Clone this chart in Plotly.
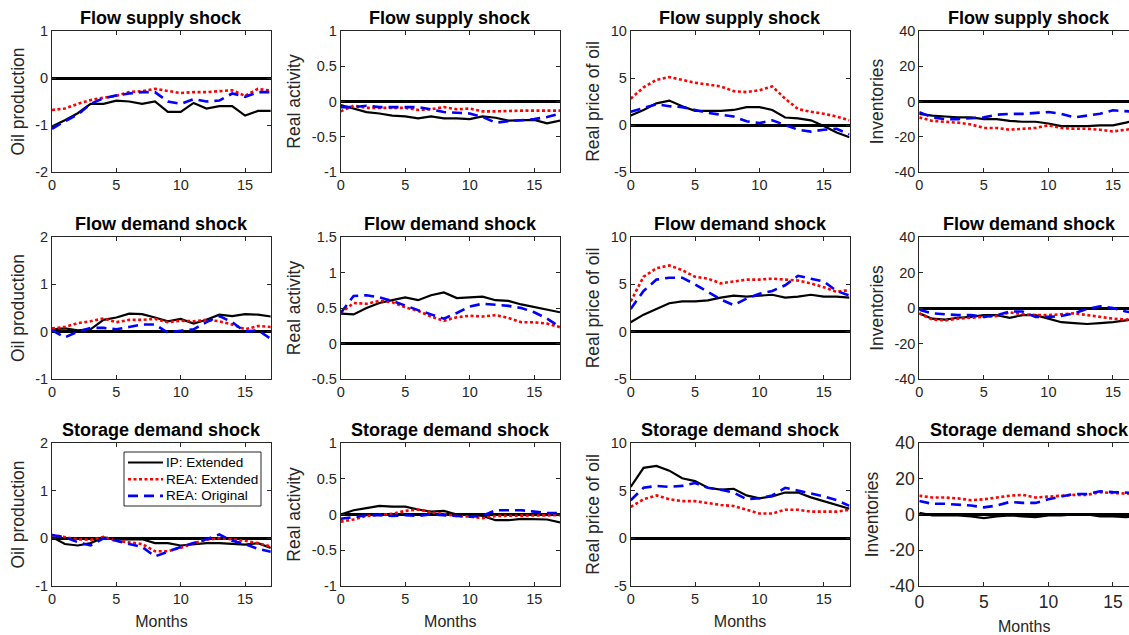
import plotly.graph_objects as go

months = list(range(18))
shock_titles = ["Flow supply shock", "Flow demand shock", "Storage demand shock"]
var_titles = ["Oil production", "Real activity", "Real price of oil", "Inventories"]
series_names = ["IP: Extended", "REA: Extended", "REA: Original"]

# ---- Flow supply shock ----
fs_oil_ip = [-1.03, -0.9, -0.75, -0.55, -0.55, -0.48, -0.5, -0.55, -0.5, -0.72, -0.72, -0.53, -0.65, -0.6, -0.6, -0.8, -0.7, -0.7]
fs_oil_ext = [-0.68, -0.65, -0.55, -0.47, -0.42, -0.38, -0.3, -0.28, -0.23, -0.28, -0.32, -0.3, -0.3, -0.28, -0.26, -0.38, -0.23, -0.27]
fs_oil_org = [-1.08, -0.92, -0.78, -0.55, -0.43, -0.37, -0.33, -0.3, -0.3, -0.5, -0.55, -0.45, -0.5, -0.48, -0.33, -0.4, -0.3, -0.3]

fs_rea_ip = [-0.05, -0.1, -0.15, -0.17, -0.2, -0.21, -0.24, -0.21, -0.24, -0.24, -0.25, -0.21, -0.23, -0.27, -0.26, -0.26, -0.31, -0.27]
fs_rea_ext = [-0.14, -0.06, -0.09, -0.09, -0.08, -0.09, -0.12, -0.11, -0.08, -0.11, -0.1, -0.14, -0.14, -0.13, -0.13, -0.13, -0.13, -0.13]
fs_rea_org = [-0.08, -0.08, -0.06, -0.08, -0.08, -0.08, -0.08, -0.11, -0.15, -0.16, -0.17, -0.22, -0.3, -0.28, -0.27, -0.25, -0.22, -0.17]

fs_price_ip = [1.0, 1.6, 2.3, 2.6, 2.0, 1.5, 1.5, 1.5, 1.6, 1.9, 1.9, 1.6, 0.8, 0.7, 0.5, -0.1, -0.8, -1.3]
fs_price_ext = [2.8, 4.0, 4.8, 5.1, 4.8, 4.5, 4.3, 4.1, 3.6, 3.5, 3.7, 4.1, 2.8, 1.7, 1.4, 1.2, 0.9, 0.5]
fs_price_org = [1.4, 1.8, 2.2, 2.0, 1.9, 1.6, 1.3, 1.1, 0.9, 0.4, 0.2, 0.5, 0.0, -0.5, -0.7, -0.5, -0.4, -1.0]

fs_inv_ip = [-7, -8, -8.5, -9, -9, -10, -10, -11, -11.5, -11.5, -12.5, -14, -14, -14, -13.5, -13.5, -12, -10]
fs_inv_ext = [-9, -11, -11.5, -12, -13, -15, -15, -16, -15.5, -15, -13.5, -15, -15.5, -15.5, -16, -17, -16, -15]
fs_inv_org = [-6, -9, -10, -10, -9.5, -9, -7.5, -7, -7, -6.5, -6, -7, -9, -8, -7, -5, -5.5, -6]

# ---- Flow demand shock ----
fd_oil_ip = [0.05, 0.07, 0.03, 0.05, 0.25, 0.3, 0.38, 0.37, 0.3, 0.22, 0.27, 0.17, 0.25, 0.36, 0.33, 0.37, 0.36, 0.32]
fd_oil_ext = [0.07, 0.1, 0.18, 0.22, 0.28, 0.2, 0.25, 0.25, 0.27, 0.2, 0.23, 0.22, 0.25, 0.22, 0.15, 0.05, 0.12, 0.1]
fd_oil_org = [0.03, -0.12, 0.0, 0.08, 0.08, 0.05, 0.1, 0.15, 0.15, -0.02, 0.02, 0.05, 0.2, 0.33, 0.2, 0.0, 0.03, -0.15]

fd_rea_ip = [0.42, 0.41, 0.5, 0.57, 0.61, 0.65, 0.61, 0.68, 0.72, 0.64, 0.65, 0.66, 0.61, 0.6, 0.55, 0.51, 0.47, 0.44]
fd_rea_ext = [0.43, 0.57, 0.56, 0.6, 0.58, 0.51, 0.46, 0.38, 0.32, 0.37, 0.39, 0.38, 0.4, 0.36, 0.3, 0.3, 0.28, 0.23]
fd_rea_org = [0.43, 0.67, 0.68, 0.65, 0.6, 0.53, 0.47, 0.41, 0.35, 0.43, 0.52, 0.56, 0.55, 0.53, 0.5, 0.44, 0.35, 0.23]

fd_price_ip = [1.0, 1.8, 2.4, 3.0, 3.2, 3.2, 3.3, 3.6, 3.8, 3.7, 3.8, 3.9, 3.6, 3.7, 3.9, 3.7, 3.7, 3.6]
fd_price_ext = [3.2, 5.8, 6.7, 7.0, 6.5, 5.8, 5.6, 5.1, 5.3, 5.5, 5.5, 5.6, 5.5, 5.4, 5.1, 4.7, 4.2, 4.4]
fd_price_org = [2.4, 4.3, 5.5, 5.7, 5.7, 5.0, 4.2, 3.4, 2.8, 3.5, 4.0, 4.3, 4.9, 5.9, 5.6, 5.3, 4.3, 3.8]

fd_inv_ip = [-3, -6, -6.5, -5.5, -5, -4, -4, -5.5, -4, -4, -6, -8, -8.5, -9, -8.5, -8, -7, -6]
fd_inv_ext = [-3, -6.5, -7, -6, -5.5, -5, -4.5, -2.5, -3.5, -4, -4, -3.5, -3, -4, -5, -6, -6.5, -6]
fd_inv_org = [-1, -3, -3.5, -4, -4, -5, -4, -2, -2, -5, -5, -4.5, -3, -0.5, 1, 0, -2, -3]

# ---- Storage demand shock ----
sd_oil_ip = [0.03, -0.12, -0.15, -0.1, 0.02, -0.02, -0.02, -0.02, -0.1, -0.1, -0.15, -0.12, -0.1, -0.1, -0.12, -0.13, -0.1, -0.2]
sd_oil_ext = [0.07, 0.02, -0.02, -0.03, 0.03, -0.05, -0.08, -0.12, -0.27, -0.27, -0.2, -0.1, -0.03, 0.0, -0.02, -0.05, -0.1, -0.17]
sd_oil_org = [0.07, 0.02, -0.08, -0.15, 0.0, -0.05, -0.12, -0.18, -0.38, -0.28, -0.18, -0.1, -0.02, 0.08, -0.05, -0.12, -0.22, -0.28]

sd_rea_ip = [0.0, 0.06, 0.09, 0.12, 0.11, 0.11, 0.07, 0.04, 0.05, 0.0, 0.0, -0.02, -0.08, -0.08, -0.06, -0.07, -0.07, -0.11]
sd_rea_ext = [-0.1, -0.07, -0.02, -0.01, 0.01, 0.05, 0.07, 0.03, 0.0, -0.02, -0.03, -0.05, -0.02, -0.02, -0.01, -0.01, -0.01, -0.01]
sd_rea_org = [-0.06, -0.03, -0.01, -0.01, -0.02, -0.01, -0.02, 0.0, -0.01, -0.02, -0.03, -0.02, 0.06, 0.06, 0.06, 0.04, 0.02, 0.02]

sd_price_ip = [5.4, 7.4, 7.6, 7.1, 6.3, 6.0, 5.3, 5.1, 5.2, 4.5, 4.2, 4.4, 4.8, 4.8, 4.3, 3.9, 3.5, 3.1]
sd_price_ext = [3.3, 4.1, 4.5, 4.1, 3.9, 3.9, 3.7, 3.5, 3.4, 3.0, 2.6, 2.6, 3.0, 3.0, 2.8, 2.8, 2.8, 3.0]
sd_price_org = [4.0, 5.3, 5.5, 5.4, 5.5, 5.8, 5.3, 5.1, 4.8, 4.1, 4.2, 4.5, 5.3, 5.0, 4.7, 4.4, 4.0, 3.4]

sd_inv_ip = [1, -0.5, -0.5, -0.5, -1, -2, -1, -0.5, -1, -1.5, -0.5, -0.5, 0, 0, -1, -1, -1.5, -1]
sd_inv_ext = [10.5, 9.5, 9.5, 9, 8, 8.5, 9.5, 10.5, 11, 9.5, 10, 10.5, 11, 11, 12.5, 12, 12, 11.5]
sd_inv_org = [7.5, 6, 6, 5.5, 5, 4, 5, 7, 6.5, 6.5, 8.5, 10, 11.5, 11.5, 13, 12.5, 12, 12]

panels = [
    [(fs_oil_ip, fs_oil_ext, fs_oil_org), (fs_rea_ip, fs_rea_ext, fs_rea_org),
     (fs_price_ip, fs_price_ext, fs_price_org), (fs_inv_ip, fs_inv_ext, fs_inv_org)],
    [(fd_oil_ip, fd_oil_ext, fd_oil_org), (fd_rea_ip, fd_rea_ext, fd_rea_org),
     (fd_price_ip, fd_price_ext, fd_price_org), (fd_inv_ip, fd_inv_ext, fd_inv_org)],
    [(sd_oil_ip, sd_oil_ext, sd_oil_org), (sd_rea_ip, sd_rea_ext, sd_rea_org),
     (sd_price_ip, sd_price_ext, sd_price_org), (sd_inv_ip, sd_inv_ext, sd_inv_org)],
]

# y ticks per panel (row, col)
yticks = [
    [[-2, -1, 0, 1], [-1, -0.5, 0, 0.5, 1], [-5, 0, 5, 10], [-40, -20, 0, 20, 40]],
    [[-1, 0, 1, 2], [-0.5, 0, 0.5, 1, 1.5], [-5, 0, 5, 10], [-40, -20, 0, 20, 40]],
    [[-1, 0, 1, 2], [-1, -0.5, 0, 0.5, 1], [-5, 0, 5, 10], [-40, -20, 0, 20, 40]],
]
xticks = [0, 5, 10, 15]

# ---- layout geometry (pixels) ----
W, H = 1129, 635
col_px = [(52, 270.8), (340.7, 560), (630.7, 849.5), (919.3, 1138.8)]
row_px = [(31, 172), (237, 379), (443, 586)]

FONT = "Liberation Sans, Arial, sans-serif"
AX = "#262626"
styles = [
    dict(color="#000000", width=2.2, dash="solid"),
    dict(color="#FF0000", width=2.6, dash="3px,2.5px"),
    dict(color="#0000FF", width=2.6, dash="10px,6px"),
]

def fmt(v):
    return "%g" % v

def px_x(p):
    return p / W

def px_y(p):
    return 1 - p / H

fig = go.Figure()
layout = dict(
    width=W, height=H, margin=dict(l=0, r=0, t=0, b=0, autoexpand=False),
    paper_bgcolor="white", plot_bgcolor="white",
    font=dict(family=FONT, color=AX),
    showlegend=False,
)
annotations = []
shapes = []

for r in range(3):
    for c in range(4):
        idx = r * 4 + c + 1
        xa = "xaxis" if idx == 1 else "xaxis%d" % idx
        ya = "yaxis" if idx == 1 else "yaxis%d" % idx
        xref = "x" if idx == 1 else "x%d" % idx
        yref = "y" if idx == 1 else "y%d" % idx
        x0, x1 = col_px[c]
        y0, y1 = row_px[r]
        xdom_end = min(x1, W) / W
        unit = (x1 - x0) / 17.0
        xmax = (min(x1, W) - x0) / unit
        yt = yticks[r][c]
        big = (r == 2 and c == 3)
        tickfont = dict(size=17.5 if big else 14.5, color=AX, family=FONT)
        layout[xa] = dict(
            domain=[x0 / W, xdom_end], anchor=yref, range=[0, xmax],
            tickvals=xticks, ticktext=[fmt(v) for v in xticks],
            ticks="inside", ticklen=4, tickcolor=AX, tickwidth=1,
            showline=True, linecolor=AX, linewidth=1, mirror="ticks",
            showgrid=False, zeroline=False, tickfont=tickfont, automargin=False,
            title=dict(text="Months" if r == 2 else "", font=dict(size=16, color=AX, family=FONT), standoff=9),
        )
        layout[ya] = dict(
            domain=[1 - y1 / H, 1 - y0 / H], anchor=xref, range=[yt[0], yt[-1]],
            tickvals=yt, ticktext=[fmt(v) for v in yt],
            ticks="inside", ticklen=4, tickcolor=AX, tickwidth=1,
            showline=True, linecolor=AX, linewidth=1,
            mirror=("ticks" if c < 3 else False),
            showgrid=False, zeroline=True, zerolinecolor="#000000", zerolinewidth=3,
            tickfont=tickfont, automargin=False,
            title=dict(text=var_titles[c], font=dict(size=17.5, color=AX, family=FONT), standoff=6),
        )
        annotations.append(dict(
            text="<b>%s</b>" % shock_titles[r], xref="paper", yref="paper",
            x=(x0 + x1) / 2 / W, y=1 - (y0 - 1) / H, xanchor="center", yanchor="bottom",
            showarrow=False, font=dict(size=18, color="#000000", family=FONT),
        ))
        for s in range(3):
            fig.add_trace(go.Scatter(
                x=months, y=panels[r][c][s], mode="lines", name=series_names[s],
                line=styles[s], xaxis=xref, yaxis=yref, cliponaxis=True,
            ))

# ---- legend box (drawn in the first storage-demand panel) ----
leg_left, leg_right, leg_top, leg_bottom = 124, 261, 452, 506
shapes.append(dict(type="rect", xref="paper", yref="paper",
                   x0=px_x(leg_left), x1=px_x(leg_right), y0=px_y(leg_bottom), y1=px_y(leg_top),
                   fillcolor="white", line=dict(color=AX, width=1), layer="above"))
leg_rows = [462.5, 479.2, 495.9]
for s in range(3):
    shapes.append(dict(type="line", xref="paper", yref="paper",
                       x0=px_x(128), x1=px_x(163), y0=px_y(leg_rows[s]), y1=px_y(leg_rows[s]),
                       line=dict(color=styles[s]["color"], width=styles[s]["width"], dash=styles[s]["dash"]),
                       layer="above"))
    annotations.append(dict(text=series_names[s], xref="paper", yref="paper",
                            x=px_x(164), y=px_y(leg_rows[s]), xanchor="left", yanchor="middle",
                            showarrow=False, font=dict(size=13.5, color="#000000", family=FONT)))

layout["annotations"] = annotations
layout["shapes"] = shapes
fig.update_layout(**layout)
fig.write_html("out.html", config={"displayModeBar": False},
               post_script="document.body.style.margin='0px';document.body.style.overflow='hidden';")
